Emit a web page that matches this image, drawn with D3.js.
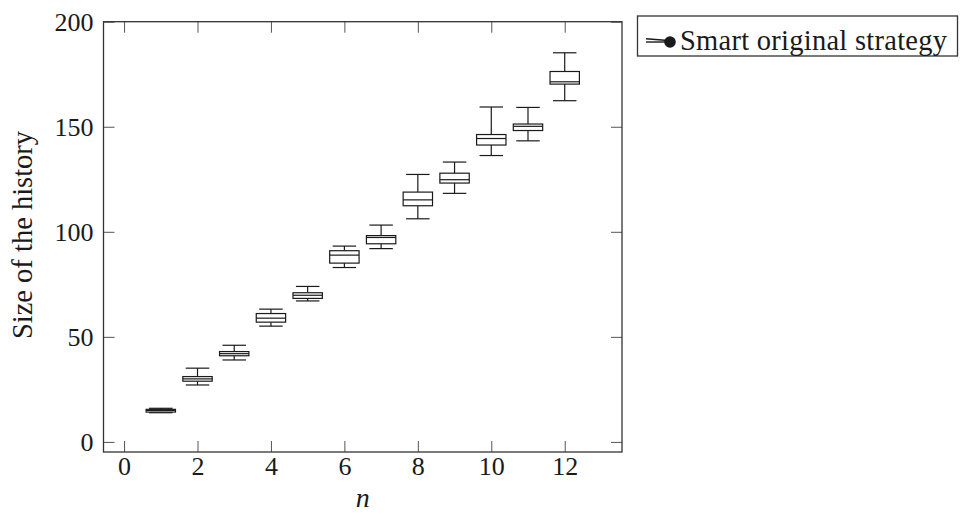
<!DOCTYPE html>
<html>
<head>
<meta charset="utf-8">
<script src="https://cdn.jsdelivr.net/npm/d3@7"></script>
<style>
  html, body { margin: 0; padding: 0; background: #fff; }
  svg { display: block; }
</style>
</head>
<body>
<svg id="chart" width="964" height="516" font-family="Liberation Serif"></svg>
<script>
// ---- data ----
const nValues      = [1, 2, 3, 4, 5, 6, 7, 8, 9, 10, 11, 12];
const lowerWhisker = [13.9, 27.1, 39.0, 55.1, 67.1, 83.0, 92.0, 106.2, 118.3, 136.3, 143.3, 162.4];
const lowerQuartile= [14.2, 28.9, 41.0, 57.0, 68.3, 85.1, 94.3, 112.4, 123.2, 141.3, 148.2, 170.3];
const medians      = [15.0, 30.0, 42.0, 58.9, 69.8, 88.9, 97.3, 115.2, 124.8, 144.4, 150.2, 171.4];
const upperQuartile= [15.5, 31.1, 43.0, 61.1, 71.0, 91.0, 98.2, 118.9, 127.9, 146.3, 151.3, 176.3];
const upperWhisker = [16.0, 35.1, 46.0, 63.2, 74.0, 93.2, 103.2, 127.3, 133.2, 159.4, 159.2, 185.2];
const xTicks = [0, 2, 4, 6, 8, 10, 12];
const yTicks = [0, 50, 100, 150, 200];
const seriesName = "Smart original strategy";
const xLabel = "n";
const yLabel = "Size of the history";

const boxes = nValues.map((n, i) => ({
  n, lw: lowerWhisker[i], q1: lowerQuartile[i], med: medians[i],
  q3: upperQuartile[i], uw: upperWhisker[i]
}));

// ---- layout ----
const L = 103.5, R = 622, T = 21.7, B = 452;
const svg = d3.select("#chart");
const x = d3.scaleLinear().domain([-0.56, 13.56]).range([L, R]);
const y = d3.scaleLinear().domain([-4.8, 200]).range([B, T]);
const FONT = "Liberation Serif";
const FS = 26;
const tickLen = 11;
const ink = "#1a1a1a";

// ticks (inward, mirrored)
function styleAxis(g) {
  g.attr("font-family", FONT);
  g.select(".domain").remove();
  g.selectAll(".tick line").attr("stroke", "#555").attr("stroke-width", 1);
}
svg.append("g").attr("transform", `translate(0,${B})`)
  .call(d3.axisBottom(x).tickValues(xTicks).tickSizeInner(-tickLen).tickSizeOuter(0).tickFormat(d3.format("d")))
  .call(styleAxis)
  .call(g => g.selectAll("text").attr("y", 23).attr("dy", null)
    .attr("font-size", FS).attr("font-family", FONT).attr("fill", ink));
svg.append("g").attr("transform", `translate(0,${T})`)
  .call(d3.axisTop(x).tickValues(xTicks).tickSizeInner(-tickLen).tickSizeOuter(0).tickFormat(""))
  .call(styleAxis);
svg.append("g").attr("transform", `translate(${L},0)`)
  .call(d3.axisLeft(y).tickValues(yTicks).tickSizeInner(-tickLen).tickSizeOuter(0).tickFormat(d3.format("d")))
  .call(styleAxis)
  .call(g => g.selectAll("text").attr("x", -10).attr("dy", "0.33em")
    .attr("font-size", FS).attr("font-family", FONT).attr("fill", ink));
svg.append("g").attr("transform", `translate(${R},0)`)
  .call(d3.axisRight(y).tickValues(yTicks).tickSizeInner(-tickLen).tickSizeOuter(0).tickFormat(""))
  .call(styleAxis);

// frame
svg.append("rect").attr("x", L).attr("y", T).attr("width", R - L).attr("height", B - T)
  .attr("fill", "none").attr("stroke", "#333").attr("stroke-width", 1.3);

// boxplots
const boxW = 0.8, capW = 0.64;
const gB = svg.append("g").attr("stroke", ink).attr("stroke-width", 1.2).attr("fill", "none");
const bx = gB.selectAll("g.box").data(boxes).join("g").attr("class", "box");
// whiskers
bx.append("line").attr("x1", d => x(d.n)).attr("x2", d => x(d.n))
  .attr("y1", d => y(d.q3)).attr("y2", d => y(d.uw));
bx.append("line").attr("x1", d => x(d.n)).attr("x2", d => x(d.n))
  .attr("y1", d => y(d.q1)).attr("y2", d => y(d.lw));
// caps
bx.append("line").attr("x1", d => x(d.n - capW / 2)).attr("x2", d => x(d.n + capW / 2))
  .attr("y1", d => y(d.uw)).attr("y2", d => y(d.uw));
bx.append("line").attr("x1", d => x(d.n - capW / 2)).attr("x2", d => x(d.n + capW / 2))
  .attr("y1", d => y(d.lw)).attr("y2", d => y(d.lw));
// box
bx.append("rect").attr("x", d => x(d.n - boxW / 2)).attr("width", d => x(d.n + boxW / 2) - x(d.n - boxW / 2))
  .attr("y", d => y(d.q3)).attr("height", d => y(d.q1) - y(d.q3)).attr("fill", "#fff");
// median
bx.append("line").attr("x1", d => x(d.n - boxW / 2)).attr("x2", d => x(d.n + boxW / 2))
  .attr("y1", d => y(d.med)).attr("y2", d => y(d.med));

// axis labels
svg.append("text").attr("x", (L + R) / 2).attr("y", 507).attr("text-anchor", "middle")
  .attr("font-family", FONT).attr("font-size", 28).attr("font-style", "italic").attr("fill", ink).text(xLabel);
svg.append("text").attr("transform", `translate(32,235) rotate(-90)`)
  .attr("text-anchor", "middle").attr("font-family", FONT).attr("font-size", 28.5).attr("fill", ink)
  .text(yLabel);

// legend
const lg = svg.append("g");
lg.append("rect").attr("x", 637.5).attr("y", 16).attr("width", 320).attr("height", 40)
  .attr("fill", "#fff").attr("stroke", "#333").attr("stroke-width", 1.3);
lg.append("line").attr("x1", 646).attr("x2", 668).attr("y1", 38.8).attr("y2", 40.5).attr("stroke", ink).attr("stroke-width", 1.4);
lg.append("line").attr("x1", 646).attr("x2", 668).attr("y1", 42).attr("y2", 42).attr("stroke", ink).attr("stroke-width", 1.4);
lg.append("circle").attr("cx", 670).attr("cy", 42).attr("r", 5.8).attr("fill", ink);
lg.append("text").attr("x", 680).attr("y", 50).attr("font-family", FONT).attr("font-size", 28.5).attr("fill", ink)
  .attr("textLength", 267).attr("lengthAdjust", "spacing").text(seriesName);
</script>
</body>
</html>
